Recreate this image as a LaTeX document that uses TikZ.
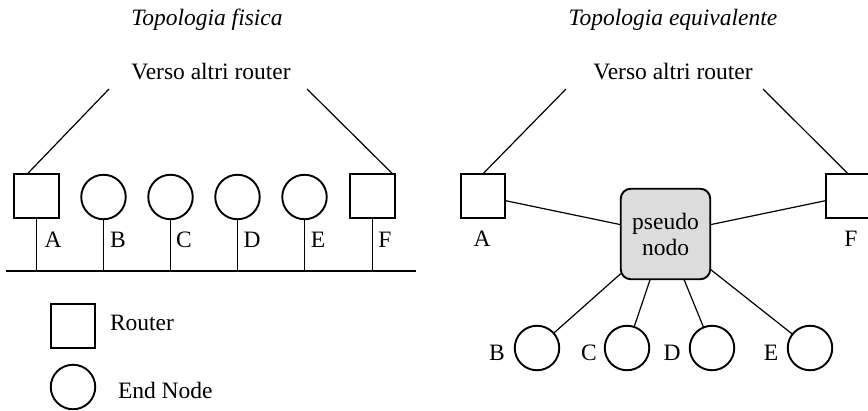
\documentclass[tikz,border=0pt]{standalone}
\usepackage{fontspec}
\setmainfont{Liberation Serif}
\definecolor{pseudogray}{RGB}{220,220,220}
\begin{document}
\begin{tikzpicture}[x=1pt,y=-1pt,
  every node/.style={font=\fontsize{23.5}{26}\selectfont, inner sep=0pt, outer sep=0pt},
  router/.style={draw, line width=1.9pt, minimum size=44.5pt},
  endnode/.style={draw, circle, line width=1.9pt, minimum size=44.5pt},
  link/.style={line width=1.2pt},
  bus/.style={line width=1.8pt},
  lbl/.style={anchor=base},
  title/.style={anchor=base, font=\fontsize{23.5}{26}\selectfont\itshape},
  pseudobox/.style={draw, line width=1.9pt, rounded corners=10pt, fill=pseudogray,
    minimum width=89.5pt, minimum height=90.5pt, align=center}
]
\useasboundingbox (0,0) rectangle (868,410);

% ---------------- left: physical topology ----------------
\node[title] (t1) at (207,25) {Topologia fisica};
\node[lbl] (v1) at (211,79) {Verso altri router};

\node[router] (A) at (36.5,196) {};
\node[endnode] (B) at (103.5,197) {};
\node[endnode] (C) at (170.5,197) {};
\node[endnode] (D) at (237.5,197) {};
\node[endnode] (E) at (304.5,197) {};
\node[router] (F) at (372.5,196) {};

\coordinate (busL) at (6,271);
\coordinate (busR) at (416,271);
\draw[bus] (busL) -- (busR);
\foreach \n in {A,B,C,D,E,F}{
  \draw[link] (\n.south) -- (\n.south |- busL);
}

\node[lbl] (lA) at (53,247) {A};
\node[lbl] (lB) at (118,247) {B};
\node[lbl] (lC) at (184,247) {C};
\node[lbl] (lD) at (252,247) {D};
\node[lbl] (lE) at (318,247) {E};
\node[lbl] (lF) at (385,247) {F};

\coordinate (vl1) at (109,89);
\coordinate (vr1) at (307,89);
\draw[link] (vl1) -- ([xshift=-9pt]A.north);
\draw[link] (vr1) -- ([xshift=20pt]F.north);

% legend
\node[router] (legR) at (73,326) {};
\node[anchor=base west] (legRt) at (110,330) {Router};
\node[endnode] (legE) at (73,387) {};
\node[anchor=base west] (legEt) at (118,398) {End Node};

% ---------------- right: equivalent topology ----------------
\node[title] (t2) at (673,25) {Topologia equivalente};
\node[lbl] (v2) at (673,79) {Verso altri router};

\node[router] (rA) at (483,196) {};
\node[router] (rF) at (848,196) {};
\node[pseudobox] (P) at (665.5,234) {pseudo\\nodo};

\node[endnode] (rB) at (537,348) {};
\node[endnode] (rC) at (627,348) {};
\node[endnode] (rD) at (712,348) {};
\node[endnode] (rE) at (810,348) {};

\coordinate (vl2) at (566,89);
\coordinate (vr2) at (763,89);
\draw[link] (vl2) -- (rA.north);
\draw[link] (vr2) -- (rF.north);

\draw[link] (rA) -- (P);
\draw[link] (P) -- (rF);
\foreach \n in {rB,rC,rD,rE}{
  \draw[link] (P) -- (\n);
}

\node[lbl] (rlA) at (482,246) {A};
\node[lbl] (rlF) at (851,246) {F};
\node[lbl] (rlB) at (497,360) {B};
\node[lbl] (rlC) at (589,360) {C};
\node[lbl] (rlD) at (672,360) {D};
\node[lbl] (rlE) at (771,360) {E};
\end{tikzpicture}
\end{document}
